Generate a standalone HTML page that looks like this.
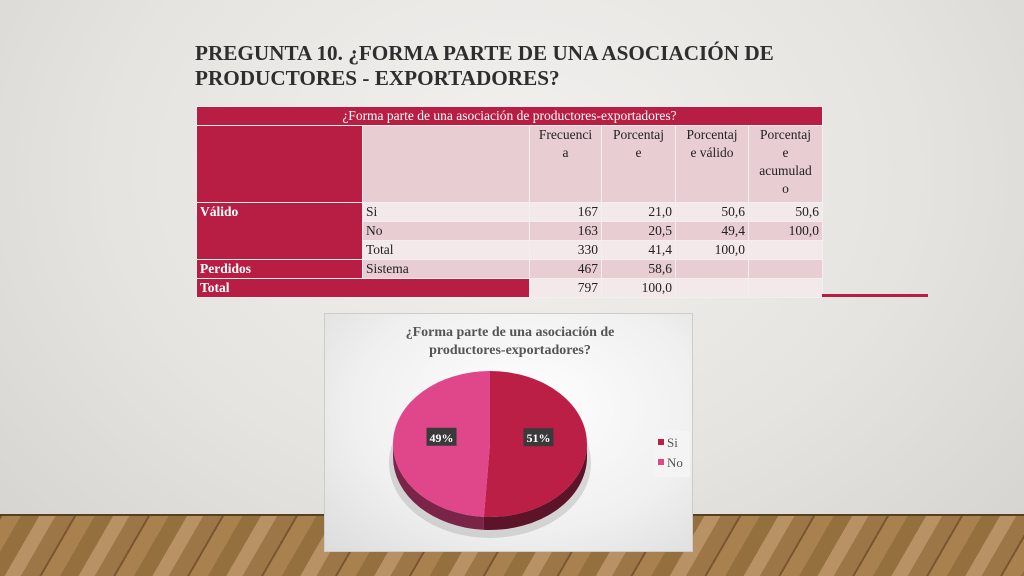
<!DOCTYPE html>
<html><head><meta charset="utf-8"><style>
*{margin:0;padding:0;box-sizing:border-box}
body{width:1024px;height:576px;overflow:hidden;position:relative;font-family:"Liberation Serif",serif;
background:radial-gradient(ellipse at 50% 30%,#f2f1ef 0%,#e6e4e0 55%,#d4d2ce 100%)}
#floor{position:absolute;left:0;top:514px;width:1024px;height:62px;
background:repeating-linear-gradient(120deg,#7a5530 0 2px,#a8814f 2px 18px,#94703f 18px 34px,#b89264 34px 48px,#9c7646 48px 64px);border-top:2px solid #5a3e20}
h1{position:absolute;left:195px;top:41px;font-size:21.2px;line-height:25px;font-weight:bold;color:#2e2e2e}
table{position:absolute;left:196px;top:106px;border-collapse:collapse;font-size:13.5px;color:#222;table-layout:fixed}
td{border:1px solid #f4efef;padding:0 3px;vertical-align:top;height:19px;line-height:18px;overflow:hidden;white-space:nowrap}
.r{background:#b81e43;color:#fff;font-weight:bold}
.p{background:#e8cdd2}
.l{background:#f3e8ea}
.n{text-align:right}
.c{text-align:center}
#line{position:absolute;left:822px;top:294px;width:106px;height:3px;background:#b81e43}
#chart{position:absolute;left:324px;top:313px;width:369px;height:239px;background:radial-gradient(ellipse at 55% 40%,#fff 0%,#f0f0f0 60%,#dcdcdc 100%);border:1px solid #ccc}
</style></head><body>
<div id="floor"></div>
<h1>PREGUNTA 10. ¿FORMA PARTE DE UNA ASOCIACIÓN DE<br>PRODUCTORES - EXPORTADORES?</h1>
<table>
<colgroup><col style="width:166px"><col style="width:167px"><col style="width:72px"><col style="width:74px"><col style="width:73px"><col style="width:74px"></colgroup>
<tr><td colspan="6" class="r c" style="font-weight:normal;font-size:13.5px">¿Forma parte de una asociación de productores-exportadores?</td></tr>
<tr><td class="r" style="height:77px"></td><td class="p"></td>
<td class="p c">Frecuenci<br>a</td><td class="p c">Porcentaj<br>e</td><td class="p c">Porcentaj<br>e válido</td><td class="p c">Porcentaj<br>e<br>acumulad<br>o</td></tr>
<tr><td class="r" rowspan="3">Válido</td><td class="l">Si</td><td class="l n">167</td><td class="l n">21,0</td><td class="l n">50,6</td><td class="l n">50,6</td></tr>
<tr><td class="p">No</td><td class="p n">163</td><td class="p n">20,5</td><td class="p n">49,4</td><td class="p n">100,0</td></tr>
<tr><td class="l">Total</td><td class="l n">330</td><td class="l n">41,4</td><td class="l n">100,0</td><td class="l"></td></tr>
<tr><td class="r">Perdidos</td><td class="p">Sistema</td><td class="p n">467</td><td class="p n">58,6</td><td class="p"></td><td class="p"></td></tr>
<tr><td class="r" colspan="2">Total</td><td class="l n">797</td><td class="l n">100,0</td><td class="l"></td><td class="l"></td></tr>
</table>
<div id="line"></div>
<div id="chart">
<svg id="svg" width="369" height="239" style="position:absolute;left:0;top:0">
<text x="185" y="22" text-anchor="middle" font-size="14" font-weight="bold" fill="#555" font-family="Liberation Serif,serif">¿Forma parte de una asociación de</text>
<text x="185" y="40" text-anchor="middle" font-size="14" font-weight="bold" fill="#555" font-family="Liberation Serif,serif">productores-exportadores?</text>
</svg>
</div>
<script>
const categories=["Si","No"];
const values=[51,49];
const labels=["51%","49%"];
const colors=["#bc1f45","#e0468a"];
const dark=["#5e1428","#7a2448"];
const svg=document.getElementById('svg');
const NS='http://www.w3.org/2000/svg';
const cx=165,cy=130,rx=97,ry=73,dep=13;
const total=values.reduce((a,b)=>a+b,0);
function pt(a,dy){return [cx+rx*Math.sin(a),cy-ry*Math.cos(a)+(dy||0)];}
function mk(t,attrs){const e=document.createElementNS(NS,t);for(const k in attrs)e.setAttribute(k,attrs[k]);svg.appendChild(e);return e;}
const sh=mk('ellipse',{cx:cx,cy:cy+dep+6,rx:rx+4,ry:ry+2,fill:'rgba(0,0,0,0.12)'});


let a0=0;
const angles=values.map(v=>{const s=a0;a0+=v/total*2*Math.PI;return [s,a0];});
angles.forEach(([s,e],i)=>{
  const s2=Math.max(s,Math.PI/2),e2=Math.min(e,3*Math.PI/2);
  if(e2<=s2)return;
  const p1=pt(s2),p2=pt(e2),p3=pt(e2,dep),p4=pt(s2,dep);
  const side=mk('path',{d:`M${p1}A${rx},${ry} 0 0 1 ${p2}L${p3}A${rx},${ry} 0 0 0 ${p4}Z`,fill:dark[i]});
  
  
});
angles.forEach(([s,e],i)=>{
  const p1=pt(s),p2=pt(e);const large=(e-s)>Math.PI?1:0;
  const sl=mk('path',{d:`M${cx},${cy}L${p1}A${rx},${ry} 0 ${large} 1 ${p2}Z`,fill:colors[i]});
  
  
  const m=(s+e)/2;const lx=cx+rx*0.5*Math.sin(m),ly=cy-ry*0.1*Math.cos(m)-7;
  const bx=mk('rect',{x:lx-15,y:ly-9,width:30,height:18,fill:'#3a3a3a'});
  
  
  const t=mk('text',{x:lx,y:ly+5,'text-anchor':'middle','font-size':'12','font-weight':'bold',fill:'#fff','font-family':'Liberation Serif,serif'});
  t.textContent=labels[i];
  
  
});
const lg=mk('rect',{x:329,y:117,width:36,height:46,fill:'#f4f4f4'});


categories.forEach((c,i)=>{
  const y=132+i*20;
  const sw=mk('rect',{x:333,y:y-7,width:6,height:6,fill:colors[i]});
  
  
  const t=mk('text',{x:342,y:y+1,'font-size':'13',fill:'#555','font-family':'Liberation Serif,serif'});
  t.textContent=c;
  
  
});
</script>
</body></html>
